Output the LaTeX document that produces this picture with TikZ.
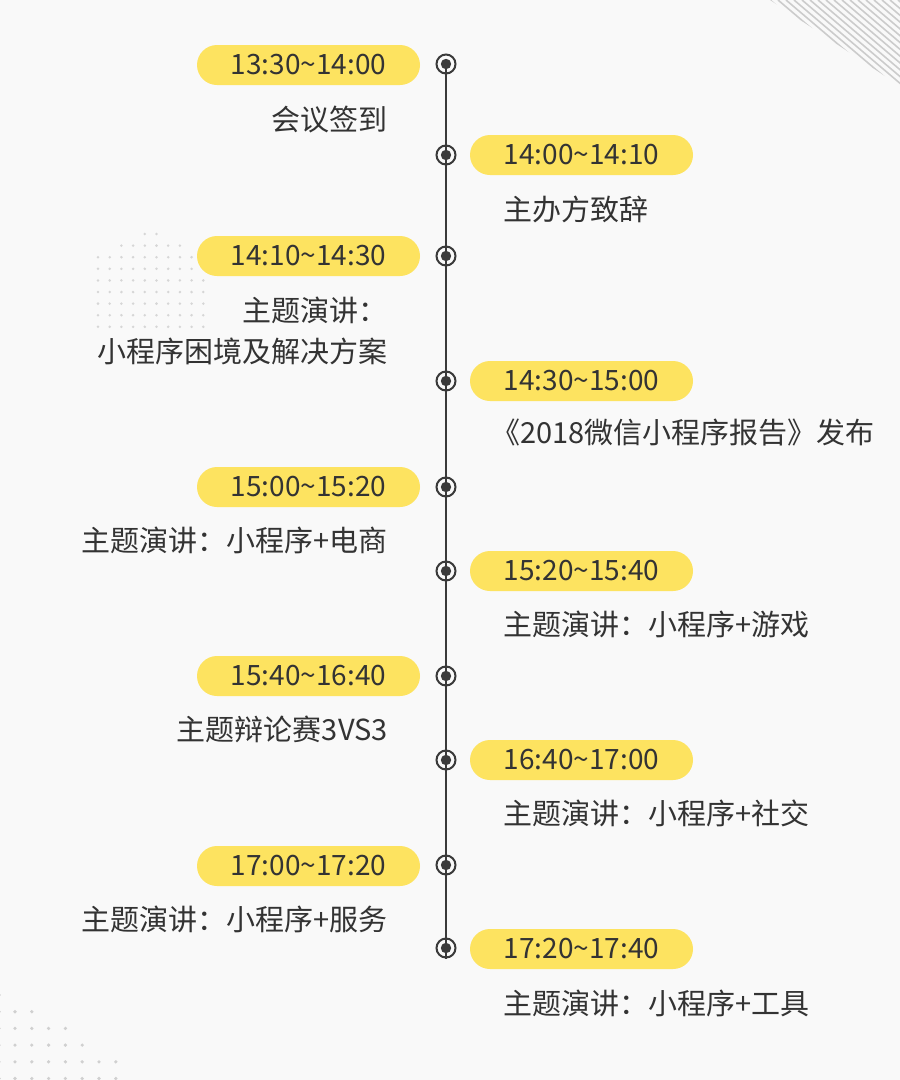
\documentclass[tikz,border=0pt]{standalone}
\usepackage{fontspec}
\setmainfont{Noto Sans CJK SC}
\definecolor{bgc}{HTML}{F9F9F9}
\definecolor{pillc}{HTML}{FDE360}
\definecolor{inkc}{HTML}{333333}
\definecolor{linec}{HTML}{3A3A3A}
\definecolor{decoc}{HTML}{CCCCCC}
\definecolor{dotc}{HTML}{D6D6D6}
\definecolor{dotd}{HTML}{D0D0D0}
\tikzset{
  timepill/.style={fill=pillc, rounded corners=20pt, minimum width=223pt, minimum height=40pt, inner sep=0pt, text=inkc, font=\fontsize{28}{28}\selectfont},
  desc/.style={inner sep=0pt, text=inkc, font=\fontsize{29}{34}\selectfont},
  ring/.style={circle, draw=linec, line width=2pt, minimum size=19pt, inner sep=0pt},
  axisline/.style={draw=linec, line width=2pt},
  hatchline/.style={draw=decoc, line width=1.6pt},
}
\begin{document}
\begin{tikzpicture}[x=1pt,y=-1pt]
\useasboundingbox (0,0) rectangle (900,1080);
\fill[bgc] (0,0) rectangle (900,1080);
% top-right hatching
\begin{scope}
  \clip (770,0) -- (900,0) -- (900,86) -- cycle;
  \foreach \k in {0,...,17} { \draw[hatchline] ({770+8*\k},0) -- ++(140,119); }
\end{scope}
% left dot grid
\foreach \i in {4,5} { \fill[dotc] ({98+11.7*\i},234) circle (1.4); }
\foreach \i in {2,...,7} { \fill[dotc] ({98+11.7*\i},245.6) circle (1.4); }
\foreach \j in {2,...,8} { \foreach \i in {0,...,9} { \fill[dotc] ({98+11.7*\i},{234+11.6*\j}) circle (1.4); } }
% bottom-left dot grid
\foreach \j/\n in {1/1,2/3,3/4,4/6,5/6} { \foreach \i in {0,...,\n} { \fill[dotd] ({15+16.8*\i},{995+16.7*\j}) circle (1.8); } }
\foreach \j in {0,...,5} { \fill[dotd] (-1,{995+16.7*\j}) circle (1.8); }
% markers
\foreach \n/\y in {1/64,2/155,3/256,4/381,5/487,6/571,7/676,8/760,9/865,10/948} {
  \node[ring] (m\n) at (446,\y) {};
  \fill[linec] (m\n.center) circle (5.2);
}
\draw[axisline] (m1.center) -- (m10.south);
% time pills
\node[timepill] (p1) at (308.5,65) {13:30\textasciitilde14:00};
\node[timepill] (p2) at (581.5,155) {14:00\textasciitilde14:10};
\node[timepill] (p3) at (308.5,256) {14:10\textasciitilde14:30};
\node[timepill] (p4) at (581.5,381) {14:30\textasciitilde15:00};
\node[timepill] (p5) at (308.5,487) {15:00\textasciitilde15:20};
\node[timepill] (p6) at (581.5,571) {15:20\textasciitilde15:40};
\node[timepill] (p7) at (308.5,676) {15:40\textasciitilde16:40};
\node[timepill] (p8) at (581.5,760) {16:40\textasciitilde17:00};
\node[timepill] (p9) at (308.5,866) {17:00\textasciitilde17:20};
\node[timepill] (p10) at (581.5,949) {17:20\textasciitilde17:40};
% descriptions
\node[desc, anchor=east] (d1) at (388,120) {会议签到};
\node[desc, anchor=west] (d2) at (503,209) {主办方致辞};
\node[desc, anchor=east] (d3a) at (388,310) {主题演讲：};
\node[desc, anchor=east] (d3b) at (388,351) {小程序困境及解决方案};
\node[desc, anchor=west] (d4) at (491,433) {《2018微信小程序报告》发布};
\node[desc, anchor=east] (d5) at (388,540) {主题演讲：小程序+电商};
\node[desc, anchor=west] (d6) at (503,624) {主题演讲：小程序+游戏};
\node[desc, anchor=east] (d7) at (388,729) {主题辩论赛3VS3};
\node[desc, anchor=west] (d8) at (503,813) {主题演讲：小程序+社交};
\node[desc, anchor=east] (d9) at (388,919) {主题演讲：小程序+服务};
\node[desc, anchor=west] (d10) at (503,1003) {主题演讲：小程序+工具};
\end{tikzpicture}
\end{document}
